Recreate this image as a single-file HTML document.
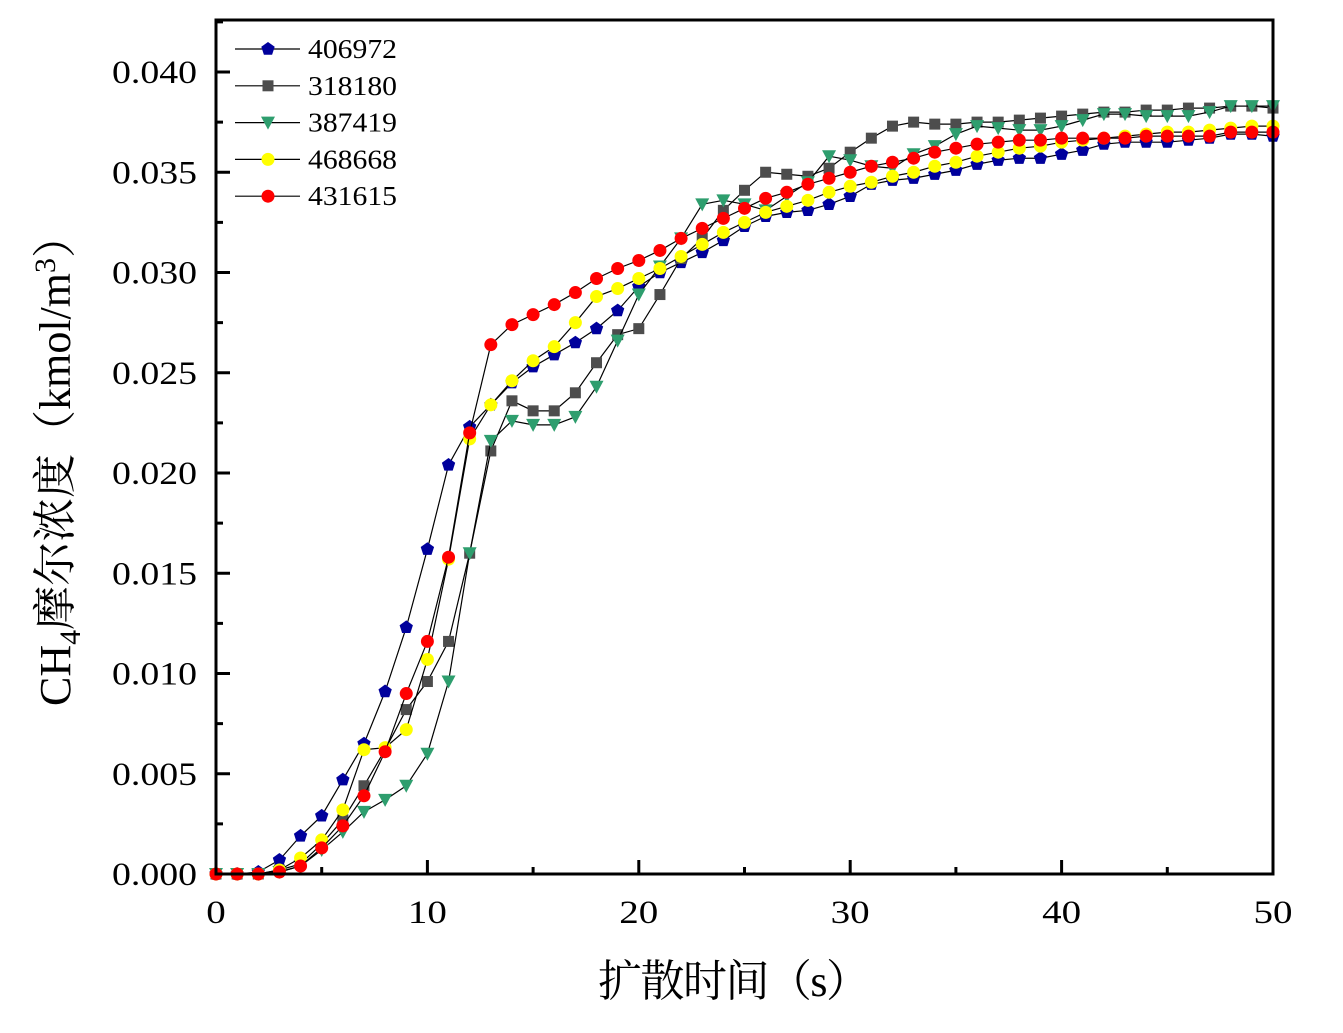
<!DOCTYPE html>
<html><head><meta charset="utf-8"><style>
body{margin:0;background:#fff;}
svg text{font-family:"Liberation Serif","Noto Serif CJK SC",serif;}
</style></head><body>
<svg id="c" width="1343" height="1028" viewBox="0 0 1343 1028">
<rect x="0" y="0" width="1343" height="1028" fill="#fff"/>
<g id="plot"></g>
<rect x="216" y="20" width="1057" height="854" fill="none" stroke="#000" stroke-width="3"/>
<g id="axes"></g>
<g id="legend"></g>
<text x="734" y="996" font-size="44" text-anchor="middle" textLength="272">扩散时间（s）</text>
<text transform="translate(70,460) rotate(-90)" font-size="44" text-anchor="middle">CH<tspan font-size="30" dy="10">4</tspan><tspan dy="-10">摩尔浓度（kmol/m</tspan><tspan font-size="30" dy="-15">3</tspan><tspan dy="15">）</tspan></text>
</svg>
<script>
const xTicks=[0,10,20,30,40,50];
const yTicks=[0,0.005,0.010,0.015,0.020,0.025,0.030,0.035,0.040];
const yTickLabels=["0.000","0.005","0.010","0.015","0.020","0.025","0.030","0.035","0.040"];
const seriesNames=["406972","318180","387419","468668","431615"];
const s406972=[0,0,0.0001,0.0007,0.0019,0.0029,0.0047,0.0065,0.0091,0.0123,0.0162,0.0204,0.0223,0.0234,0.0245,0.0253,0.0259,0.0265,0.0272,0.0281,0.0293,0.0300,0.0305,0.0310,0.0316,0.0323,0.0328,0.0330,0.0331,0.0334,0.0338,0.0344,0.0346,0.0347,0.0349,0.0351,0.0354,0.0356,0.0357,0.0357,0.0359,0.0361,0.0364,0.0365,0.0365,0.0365,0.0366,0.0367,0.0369,0.0369,0.0368];
const s318180=[0,0,0,0.0002,0.0005,0.0015,0.0027,0.0044,0.0062,0.0082,0.0096,0.0116,0.0160,0.0211,0.0236,0.0231,0.0231,0.0240,0.0255,0.0269,0.0272,0.0289,0.0307,0.0317,0.0331,0.0341,0.0350,0.0349,0.0348,0.0352,0.0360,0.0367,0.0373,0.0375,0.0374,0.0374,0.0375,0.0375,0.0376,0.0377,0.0378,0.0379,0.0380,0.0380,0.0381,0.0381,0.0382,0.0382,0.0383,0.0383,0.0382];
const s387419=[0,0,0,0.0001,0.0004,0.0012,0.0021,0.0031,0.0037,0.0044,0.0060,0.0096,0.0160,0.0216,0.0226,0.0224,0.0224,0.0228,0.0243,0.0266,0.0289,0.0303,0.0317,0.0334,0.0336,0.0334,0.0331,0.0338,0.0345,0.0358,0.0356,0.0353,0.0352,0.0359,0.0363,0.0369,0.0373,0.0372,0.0371,0.0371,0.0373,0.0376,0.0379,0.0379,0.0378,0.0378,0.0378,0.0380,0.0383,0.0383,0.0383];
const s468668=[0,0,0,0.0002,0.0008,0.0017,0.0032,0.0062,0.0063,0.0072,0.0107,0.0157,0.0217,0.0234,0.0246,0.0256,0.0263,0.0275,0.0288,0.0292,0.0297,0.0302,0.0308,0.0314,0.0320,0.0325,0.0330,0.0333,0.0336,0.0340,0.0343,0.0345,0.0348,0.0350,0.0353,0.0355,0.0358,0.0360,0.0362,0.0363,0.0365,0.0366,0.0367,0.0368,0.0369,0.0370,0.0370,0.0371,0.0372,0.0373,0.0373];
const s431615=[0,0,0,0.0001,0.0004,0.0013,0.0024,0.0039,0.0061,0.0090,0.0116,0.0158,0.0220,0.0264,0.0274,0.0279,0.0284,0.0290,0.0297,0.0302,0.0306,0.0311,0.0317,0.0322,0.0327,0.0332,0.0337,0.0340,0.0344,0.0347,0.0350,0.0353,0.0355,0.0357,0.0360,0.0362,0.0364,0.0365,0.0366,0.0366,0.0367,0.0367,0.0367,0.0367,0.0368,0.0368,0.0368,0.0368,0.0370,0.0370,0.0370];

const NS="http://www.w3.org/2000/svg";
const X0=216,X1=1273,Y0=874,Y1=72;
const xs=v=>X0+(v-0)/50*(X1-X0);
const ys=v=>Y0-(v/0.040)*(Y0-Y1);
function mk(tag,attrs,parent){const e=document.createElementNS(NS,tag);for(const k in attrs)e.setAttribute(k,attrs[k]);parent.appendChild(e);return e;}
const axes=document.getElementById('axes'),plot=document.getElementById('plot'),legend=document.getElementById('legend');

for(let v=0;v<=50;v+=5){
  const major=v%10===0;
  const t=mk('line',{x1:xs(v),x2:xs(v),y1:Y0,y2:Y0-(major?14:7),stroke:'#000','stroke-width':3},axes);
  
  
}
xTicks.forEach(v=>{
  const s=String(v);
  const t=mk('text',{x:xs(v),y:923,'font-size':33,'text-anchor':'middle',textLength:s.length*19.5,lengthAdjust:'spacingAndGlyphs'},axes);
  t.textContent=s;
  
  
});
for(let i=0;i<=17;i++){
  const v=i*0.0025;const major=i%2===0;
  const t=mk('line',{x1:X0,x2:X0+(major?14:7),y1:ys(v),y2:ys(v),stroke:'#000','stroke-width':3},axes);
  
  
}
yTicks.forEach((v,i)=>{
  const t=mk('text',{x:112,y:ys(v)+11,'font-size':33,textLength:85,lengthAdjust:'spacingAndGlyphs'},axes);
  t.textContent=yTickLabels[i];
  
  
});

const colors=["#00009c","#4d4d4d","#2e9e6e","#ffff00","#ff0000"];
const shapes=["pent","sq","tri","circ","circ"];
const data=[s406972,s318180,s387419,s468668,s431615];
function marker(shape,cx,cy,col,parent){
  let e;
  if(shape==='circ')e=mk('circle',{cx,cy,r:6.5,fill:col},parent);
  else if(shape==='sq')e=mk('rect',{x:cx-5.5,y:cy-5.5,width:11,height:11,fill:col},parent);
  else if(shape==='tri')e=mk('polygon',{points:`${cx-7},${cy-6} ${cx+7},${cy-6} ${cx},${cy+7}`,fill:col},parent);
  else{let p=[];for(let k=0;k<5;k++){const a=-Math.PI/2+k*2*Math.PI/5;p.push((cx+7*Math.cos(a)).toFixed(1)+','+(cy+7*Math.sin(a)).toFixed(1));}e=mk('polygon',{points:p.join(' '),fill:col},parent);}
  return e;
}
data.forEach((arr,si)=>{
  const g=mk('g',{},plot);
  
  
  const pl=mk('polyline',{points:arr.map((v,i)=>xs(i)+','+ys(v)).join(' '),fill:'none',stroke:'#000','stroke-width':1.2},g);
  
  
  arr.forEach((v,i)=>{
    const m=marker(shapes[si],xs(i),ys(v),colors[si],g);
    
    
  });
});
seriesNames.forEach((n,si)=>{
  const y=49+si*36.8;
  const g=mk('g',{},legend);
  
  
  mk('line',{x1:235,x2:300,y1:y,y2:y,stroke:'#000','stroke-width':1.2},g);
  marker(shapes[si],268,y,colors[si],g);
  const t=mk('text',{x:308,y:y+9,'font-size':27,textLength:89,lengthAdjust:'spacingAndGlyphs'},g);
  t.textContent=n;
});
</script>
</body></html>
